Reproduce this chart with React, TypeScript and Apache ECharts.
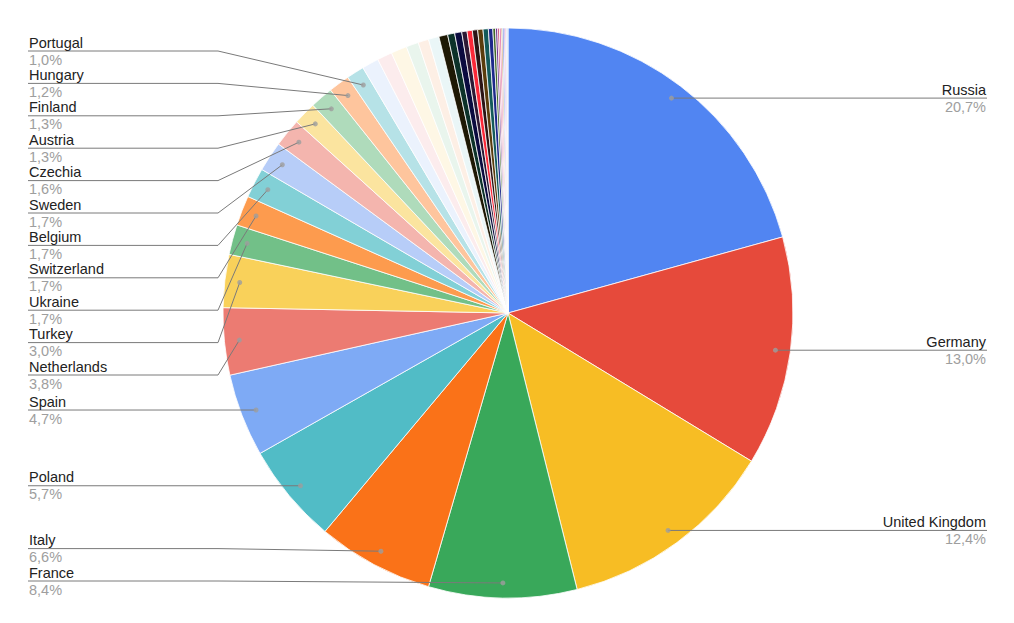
import React, { useEffect, useRef } from 'react';
import * as echarts from 'echarts';

// ---- data ----
const countries = [
  'Russia', 'Germany', 'United Kingdom', 'France', 'Italy', 'Poland', 'Spain', 'Netherlands',
  'Turkey', 'Ukraine', 'Switzerland', 'Belgium', 'Sweden', 'Czechia', 'Austria', 'Finland',
  'Hungary', 'Portugal',
  'Romania', 'Greece', 'Denmark', 'Norway', 'Ireland', 'Serbia',
  'Slovakia', 'Belarus', 'Bulgaria', 'Croatia', 'Lithuania', 'Slovenia', 'Latvia', 'Estonia', 'Luxembourg',
  'Bosnia and Herzegovina', 'Albania', 'North Macedonia', 'Moldova', 'Cyprus', 'Iceland', 'Malta',
  'Montenegro', 'Kosovo', 'Andorra',
];
const shares = [
  20.7, 13.0, 12.4, 8.4, 6.6, 5.7, 4.7, 3.8,
  3.0, 1.7, 1.7, 1.7, 1.7, 1.6, 1.3, 1.3,
  1.2, 1.0,
  0.95, 0.85, 0.9, 0.7, 0.6, 0.6,
  0.5, 0.4, 0.4, 0.3, 0.3, 0.3, 0.3, 0.3, 0.25,
  0.15, 0.12, 0.1, 0.1, 0.08, 0.08, 0.07,
  0.06, 0.05, 0.04,
];
const colors = [
  '#5185f2', '#e64a3b', '#f7bd24', '#39a85a', '#fa7218', '#51bcc6', '#7eaaf5', '#ec7b72',
  '#f9d15a', '#72c088', '#fd9b4e', '#82d0d6', '#b7cdf8', '#f4b5ae', '#fbe49f', '#afdbbb',
  '#fec59d', '#b6e2e7',
  '#ebf2fd', '#fceced', '#fef7e5', '#e9f5ed', '#fdefe5', '#eaf6f7',
  '#1e1905', '#0c3229', '#0b0b3f', '#2d1935', '#fb2838', '#2b1415', '#5a3c0d', '#145a5a', '#1d288a',
  '#41682a', '#6a2d88', '#c43f6b', '#e368a0', '#b0782a', '#3d5fd2', '#9d6fe0',
  '#d6477a', '#8888e6', '#5a9ed0',
];
const LABEL_MIN_SHARE = 1.0;

// ---- layout constants ----
const W = 1014;
const H = 623;
const CX = 508;
const CY = 313;
const R = 285;
const DOT_R = 270;
const GAP = 32.4;
const TOP_Y = 51;
const BOTTOM_Y = 581;
const LEFT_X = 28;
const RIGHT_X = 987;
const RUN = 190;
const FONT = 'Liberation Sans, Arial, sans-serif';

const TOTAL = shares.reduce((a, b) => a + b, 0);
let acc = 0;
const mids = shares.map((v) => {
  const m = acc + v / 2;
  acc += v;
  return m;
});
const labelled = shares.map((v) => v >= LABEL_MIN_SHARE - 1e-9);
const dots = mids.map((m) => {
  const a = (m / TOTAL) * 2 * Math.PI;
  return [CX + DOT_R * Math.sin(a), CY - DOT_R * Math.cos(a)];
});

type Item = { i: number; nat: number };
function placeSide(items: Item[]): Record<number, number> {
  items.sort((a, b) => a.nat - b.nat);
  const clusters = items.map((it) => ({ members: [it], sum: it.nat }));
  const topOf = (c: { members: Item[]; sum: number }) => {
    const n = c.members.length;
    let t = c.sum / n - ((n - 1) * GAP) / 2;
    t = Math.min(t, BOTTOM_Y - (n - 1) * GAP);
    t = Math.max(t, TOP_Y);
    return t;
  };
  let merged = true;
  while (merged) {
    merged = false;
    for (let k = 0; k < clusters.length - 1; k++) {
      const a = clusters[k];
      const b = clusters[k + 1];
      const aEnd = topOf(a) + (a.members.length - 1) * GAP;
      if (topOf(b) - aEnd < GAP) {
        a.members.push(...b.members);
        a.sum += b.sum;
        clusters.splice(k + 1, 1);
        merged = true;
        break;
      }
    }
  }
  const out: Record<number, number> = {};
  clusters.forEach((c) => {
    const t = topOf(c);
    c.members.forEach((m, j) => {
      out[m.i] = t + j * GAP;
    });
  });
  return out;
}

const leftItems: Item[] = [];
const rightItems: Item[] = [];
shares.forEach((_, i) => {
  if (!labelled[i]) return;
  const it = { i, nat: dots[i][1] };
  if (dots[i][0] < CX) leftItems.push(it);
  else rightItems.push(it);
});
const labelY: Record<number, number> = { ...placeSide(leftItems), ...placeSide(rightItems) };

const fmtPct = (v: number) => ((v / TOTAL) * 100).toFixed(1).replace('.', ',') + '%';

export default function App() {
  const ref = useRef<HTMLDivElement>(null);
  useEffect(() => {
    if (!ref.current) return;
    const chart = echarts.init(ref.current, null, { renderer: 'svg' });
    const pieData = countries.map((name, i) => ({
      name,
      value: shares[i],
      itemStyle: { color: colors[i] },
    }));
    const overlayData = countries.map((name, i) => ({
      name,
      value: shares[i],
      label: { show: labelled[i] },
      labelLine: { show: labelled[i] },
    }));
    const dotData = mids
      .map((m, i) => (labelled[i] ? [DOT_R, m] : null))
      .filter((d) => d !== null);
    chart.setOption({
      animation: false,
      backgroundColor: '#ffffff',
      polar: { center: [CX, CY], radius: R },
      angleAxis: { type: 'value', min: 0, max: TOTAL, startAngle: 90, clockwise: true, show: false },
      radiusAxis: { type: 'value', min: 0, max: R, show: false },
      series: [
        {
          type: 'pie',
          z: 2,
          center: [CX, CY],
          radius: [0, R],
          startAngle: 90,
          clockwise: true,
          minAngle: 0,
          silent: true,
          itemStyle: { borderColor: '#ffffff', borderWidth: 0.8 },
          label: { show: false },
          labelLine: { show: false },
          data: pieData,
        },
        {
          type: 'pie',
          z: 5,
          center: [CX, CY],
          radius: [0, DOT_R],
          startAngle: 90,
          clockwise: true,
          avoidLabelOverlap: false,
          minAngle: 0,
          silent: true,
          itemStyle: { color: 'rgba(0,0,0,0)', borderWidth: 0 },
          data: overlayData,
          label: {
            show: true,
            position: 'outside',
            formatter: (p: any) => `{n|${p.name}}\n{p|${fmtPct(p.value)}}`,
            rich: {
              n: { fontFamily: FONT, fontSize: 14.5, color: '#222222', lineHeight: 17 },
              p: { fontFamily: FONT, fontSize: 14.5, color: '#9e9e9e', lineHeight: 17 },
            },
          },
          labelLine: {
            show: true,
            showAbove: true,
            length: 10,
            length2: 10,
            lineStyle: { color: '#7a7a7a', width: 1 },
          },
          labelLayout: (params: any) => {
            const i = params.dataIndex;
            if (!labelled[i] || labelY[i] == null) return {};
            const y = labelY[i];
            const left = dots[i][0] < CX;
            const endX = left ? LEFT_X : RIGHT_X;
            const elbowX = left ? LEFT_X + RUN : RIGHT_X - RUN;
            return {
              x: left ? LEFT_X + 1 : RIGHT_X - 1,
              y,
              align: left ? 'left' : 'right',
              verticalAlign: 'middle',
              labelLinePoints: [
                [dots[i][0], dots[i][1]],
                [elbowX, y],
                [endX, y],
              ],
            };
          },
        },
        {
          type: 'scatter',
          coordinateSystem: 'polar',
          data: dotData,
          symbol: 'circle',
          symbolSize: 5,
          silent: true,
          z: 10,
          itemStyle: { color: '#9e9e9e' },
        },
      ],
    });
    return () => chart.dispose();
  }, []);
  return (
    <div
      ref={ref}
      style={{ position: 'absolute', left: 0, top: 0, width: W, height: H, background: '#fff' }}
    />
  );
}
